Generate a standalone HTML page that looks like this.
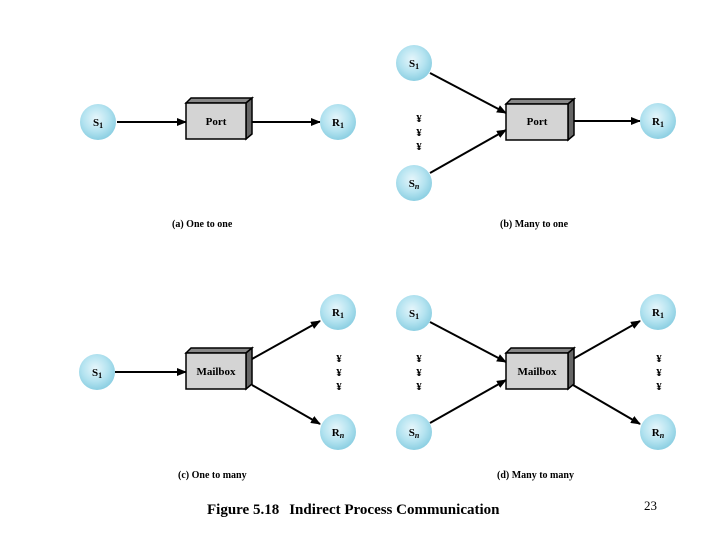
<!DOCTYPE html>
<html><head><meta charset="utf-8"><style>
html,body{margin:0;padding:0;background:#fff;}
svg{display:block;}
.lbl{font-family:"Liberation Serif",serif;font-weight:bold;font-size:11px;fill:#000;}
.cap{font-family:"Liberation Serif",serif;font-weight:bold;font-size:10px;fill:#000;}
.dot{font-family:"Liberation Serif",serif;font-weight:bold;font-size:11px;fill:#000;}
</style></head><body>
<svg width="720" height="540" viewBox="0 0 720 540" xmlns="http://www.w3.org/2000/svg">
<defs>
<radialGradient id="g" cx="45%" cy="40%" r="60%">
<stop offset="0" stop-color="#e6f6fb"/><stop offset="0.6" stop-color="#b4e3f0"/><stop offset="1" stop-color="#8ccfe2"/>
</radialGradient>
<marker id="a" markerWidth="10" markerHeight="8" refX="9" refY="4" orient="auto" markerUnits="userSpaceOnUse">
<path d="M0,0 L10,4 L0,8 z" fill="#000"/></marker>
</defs>
<g stroke="#000" stroke-width="2" fill="none" marker-end="url(#a)">
<line x1="117" y1="122" x2="186" y2="122"/>
<line x1="252" y1="122" x2="320" y2="122"/>
<line x1="430" y1="73" x2="506" y2="113"/>
<line x1="430" y1="173" x2="506" y2="130"/>
<line x1="573" y1="121" x2="640" y2="121"/>
<line x1="115" y1="372" x2="186" y2="372"/>
<line x1="252" y1="359" x2="320" y2="321"/>
<line x1="252" y1="385" x2="320" y2="424"/>
<line x1="430" y1="322" x2="506" y2="362"/>
<line x1="430" y1="423" x2="506" y2="380"/>
<line x1="573" y1="359" x2="640" y2="321"/>
<line x1="573" y1="385" x2="640" y2="424"/>
</g>
<!-- boxes -->
<g stroke="#000" stroke-width="1.5">
<g>
<polygon points="186,103 191,98 252,98 246,103" fill="#888"/>
<polygon points="246,103 252,98 252,134 246,139" fill="#666"/>
<rect x="186" y="103" width="60" height="36" fill="#d4d4d4"/>
</g>
<g>
<polygon points="506,104 511,99 574,99 568,104" fill="#888"/>
<polygon points="568,104 574,99 574,135 568,140" fill="#666"/>
<rect x="506" y="104" width="62" height="36" fill="#d4d4d4"/>
</g>
<g>
<polygon points="186,353 191,348 252,348 246,353" fill="#888"/>
<polygon points="246,353 252,348 252,384 246,389" fill="#666"/>
<rect x="186" y="353" width="60" height="36" fill="#d4d4d4"/>
</g>
<g>
<polygon points="506,353 511,348 574,348 568,353" fill="#888"/>
<polygon points="568,353 574,348 574,384 568,389" fill="#666"/>
<rect x="506" y="353" width="62" height="36" fill="#d4d4d4"/>
</g>
</g>
<g class="lbl" text-anchor="middle">
<text x="216" y="125">Port</text>
<text x="537" y="125">Port</text>
<text x="216" y="375">Mailbox</text>
<text x="537" y="375">Mailbox</text>
</g>
<!-- circles -->
<g fill="url(#g)">
<circle cx="98" cy="122" r="18"/>
<circle cx="338" cy="122" r="18"/>
<circle cx="414" cy="63" r="18"/>
<circle cx="414" cy="183" r="18"/>
<circle cx="658" cy="121" r="18"/>
<circle cx="97" cy="372" r="18"/>
<circle cx="338" cy="312" r="18"/>
<circle cx="338" cy="432" r="18"/>
<circle cx="414" cy="313" r="18"/>
<circle cx="414" cy="432" r="18"/>
<circle cx="658" cy="312" r="18"/>
<circle cx="658" cy="432" r="18"/>
</g>
<g class="lbl" text-anchor="middle">
<text x="98" y="126">S<tspan font-size="8" dy="2">1</tspan></text>
<text x="338" y="126">R<tspan font-size="8" dy="2">1</tspan></text>
<text x="414" y="67">S<tspan font-size="8" dy="2">1</tspan></text>
<text x="414" y="187">S<tspan font-size="8" dy="2" font-style="italic">n</tspan></text>
<text x="658" y="125">R<tspan font-size="8" dy="2">1</tspan></text>
<text x="97" y="376">S<tspan font-size="8" dy="2">1</tspan></text>
<text x="338" y="316">R<tspan font-size="8" dy="2">1</tspan></text>
<text x="338" y="436">R<tspan font-size="8" dy="2" font-style="italic">n</tspan></text>
<text x="414" y="317">S<tspan font-size="8" dy="2">1</tspan></text>
<text x="414" y="436">S<tspan font-size="8" dy="2" font-style="italic">n</tspan></text>
<text x="658" y="316">R<tspan font-size="8" dy="2">1</tspan></text>
<text x="658" y="436">R<tspan font-size="8" dy="2" font-style="italic">n</tspan></text>
</g>
<g class="dot" text-anchor="middle">
<text x="419" y="122">¥</text><text x="419" y="136">¥</text><text x="419" y="150">¥</text>
<text x="339" y="362">¥</text><text x="339" y="376">¥</text><text x="339" y="390">¥</text>
<text x="419" y="362">¥</text><text x="419" y="376">¥</text><text x="419" y="390">¥</text>
<text x="659" y="362">¥</text><text x="659" y="376">¥</text><text x="659" y="390">¥</text>
</g>
<g class="cap">
<text x="172" y="227">(a) One to one</text>
<text x="500" y="227">(b) Many to one</text>
<text x="178" y="478">(c) One to many</text>
<text x="497" y="478">(d) Many to many</text>
</g>
<text x="207" y="514" font-family="Liberation Serif,serif" font-weight="bold" font-size="15" fill="#000">Figure 5.18<tspan dx="10">Indirect Process Communication</tspan></text>
<text x="644" y="510" font-family="Liberation Serif,serif" font-size="13" fill="#000">23</text>
</svg>
</body></html>
